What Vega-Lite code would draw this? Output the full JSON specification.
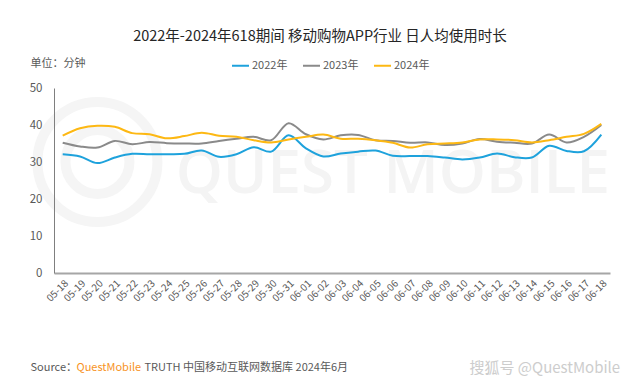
{
  "$schema": "https://vega.github.io/schema/vega-lite/v6.json",
  "width": 556,
  "height": 185,
  "autosize": {"type": "none"},
  "padding": {"left": 54, "top": 88, "right": 30, "bottom": 111},
  "background": "white",
  "title": {
    "text": "2022年-2024年618期间 移动购物APP行业 日人均使用时长",
    "font": "Noto Sans CJK SC",
    "fontSize": 14.5,
    "fontWeight": "normal",
    "color": "#262626",
    "anchor": "middle",
    "dx": -12,
    "offset": 12
  },
  "datasets": {
    "main": [
      {"day": "05-18", "year": "2022年", "v": 32.1}, {"day": "05-19", "year": "2022年", "v": 31.5}, {"day": "05-20", "year": "2022年", "v": 29.7}, {"day": "05-21", "year": "2022年", "v": 31.2},
      {"day": "05-22", "year": "2022年", "v": 32.2}, {"day": "05-23", "year": "2022年", "v": 32.1}, {"day": "05-24", "year": "2022年", "v": 32.1}, {"day": "05-25", "year": "2022年", "v": 32.2},
      {"day": "05-26", "year": "2022年", "v": 33.1}, {"day": "05-27", "year": "2022年", "v": 31.4}, {"day": "05-28", "year": "2022年", "v": 32.1}, {"day": "05-29", "year": "2022年", "v": 34.0},
      {"day": "05-30", "year": "2022年", "v": 32.8}, {"day": "05-31", "year": "2022年", "v": 37.2}, {"day": "06-01", "year": "2022年", "v": 33.7}, {"day": "06-02", "year": "2022年", "v": 31.5},
      {"day": "06-03", "year": "2022年", "v": 32.3}, {"day": "06-04", "year": "2022年", "v": 32.8}, {"day": "06-05", "year": "2022年", "v": 33.1}, {"day": "06-06", "year": "2022年", "v": 31.7},
      {"day": "06-07", "year": "2022年", "v": 31.6}, {"day": "06-08", "year": "2022年", "v": 31.6}, {"day": "06-09", "year": "2022年", "v": 31.2}, {"day": "06-10", "year": "2022年", "v": 30.7},
      {"day": "06-11", "year": "2022年", "v": 31.2}, {"day": "06-12", "year": "2022年", "v": 32.3}, {"day": "06-13", "year": "2022年", "v": 31.3}, {"day": "06-14", "year": "2022年", "v": 31.2},
      {"day": "06-15", "year": "2022年", "v": 34.4}, {"day": "06-16", "year": "2022年", "v": 33.0}, {"day": "06-17", "year": "2022年", "v": 32.9}, {"day": "06-18", "year": "2022年", "v": 37.4},
      {"day": "05-18", "year": "2023年", "v": 35.2}, {"day": "05-19", "year": "2023年", "v": 34.2}, {"day": "05-20", "year": "2023年", "v": 33.9}, {"day": "05-21", "year": "2023年", "v": 35.7},
      {"day": "05-22", "year": "2023年", "v": 34.8}, {"day": "05-23", "year": "2023年", "v": 35.4}, {"day": "05-24", "year": "2023年", "v": 35.1}, {"day": "05-25", "year": "2023年", "v": 35.0},
      {"day": "05-26", "year": "2023年", "v": 35.0}, {"day": "05-27", "year": "2023年", "v": 35.7}, {"day": "05-28", "year": "2023年", "v": 36.3}, {"day": "05-29", "year": "2023年", "v": 36.8},
      {"day": "05-30", "year": "2023年", "v": 35.9}, {"day": "05-31", "year": "2023年", "v": 40.5}, {"day": "06-01", "year": "2023年", "v": 37.5}, {"day": "06-02", "year": "2023年", "v": 36.1},
      {"day": "06-03", "year": "2023年", "v": 37.2}, {"day": "06-04", "year": "2023年", "v": 37.3}, {"day": "06-05", "year": "2023年", "v": 35.9}, {"day": "06-06", "year": "2023年", "v": 35.7},
      {"day": "06-07", "year": "2023年", "v": 35.2}, {"day": "06-08", "year": "2023年", "v": 35.3}, {"day": "06-09", "year": "2023年", "v": 34.6}, {"day": "06-10", "year": "2023年", "v": 35.0},
      {"day": "06-11", "year": "2023年", "v": 36.2}, {"day": "06-12", "year": "2023年", "v": 35.5}, {"day": "06-13", "year": "2023年", "v": 35.2}, {"day": "06-14", "year": "2023年", "v": 35.0},
      {"day": "06-15", "year": "2023年", "v": 37.4}, {"day": "06-16", "year": "2023年", "v": 35.3}, {"day": "06-17", "year": "2023年", "v": 36.8}, {"day": "06-18", "year": "2023年", "v": 40.0},
      {"day": "05-18", "year": "2024年", "v": 37.1}, {"day": "05-19", "year": "2024年", "v": 39.1}, {"day": "05-20", "year": "2024年", "v": 39.8}, {"day": "05-21", "year": "2024年", "v": 39.5},
      {"day": "05-22", "year": "2024年", "v": 37.8}, {"day": "05-23", "year": "2024年", "v": 37.5}, {"day": "05-24", "year": "2024年", "v": 36.4}, {"day": "05-25", "year": "2024年", "v": 37.0},
      {"day": "05-26", "year": "2024年", "v": 37.9}, {"day": "05-27", "year": "2024年", "v": 37.1}, {"day": "05-28", "year": "2024年", "v": 36.8}, {"day": "05-29", "year": "2024年", "v": 35.9},
      {"day": "05-30", "year": "2024年", "v": 35.3}, {"day": "05-31", "year": "2024年", "v": 36.1}, {"day": "06-01", "year": "2024年", "v": 36.8}, {"day": "06-02", "year": "2024年", "v": 37.4},
      {"day": "06-03", "year": "2024年", "v": 36.3}, {"day": "06-04", "year": "2024年", "v": 36.3}, {"day": "06-05", "year": "2024年", "v": 35.9}, {"day": "06-06", "year": "2024年", "v": 35.2},
      {"day": "06-07", "year": "2024年", "v": 33.9}, {"day": "06-08", "year": "2024年", "v": 34.8}, {"day": "06-09", "year": "2024年", "v": 35.0}, {"day": "06-10", "year": "2024年", "v": 35.3},
      {"day": "06-11", "year": "2024年", "v": 36.1}, {"day": "06-12", "year": "2024年", "v": 36.1}, {"day": "06-13", "year": "2024年", "v": 35.9}, {"day": "06-14", "year": "2024年", "v": 35.3},
      {"day": "06-15", "year": "2024年", "v": 35.9}, {"day": "06-16", "year": "2024年", "v": 36.8}, {"day": "06-17", "year": "2024年", "v": 37.6}, {"day": "06-18", "year": "2024年", "v": 40.3}
    ],
    "wm": [{"day": "06-06", "v": 26.5, "t": "QUEST MOBILE"}],
    "logo": [{"day": "05-20", "v": 30, "ring": "outer"}, {"day": "05-20", "v": 30, "ring": "inner"}]
  },
  "layer": [
    {
      "data": {"name": "logo"},
      "mark": {"type": "point", "shape": "circle", "filled": false, "stroke": "#f5f5f5", "strokeWidth": 10, "opacity": 1},
      "encoding": {
        "x": {"field": "day", "type": "nominal", "axis": null},
        "y": {"field": "v", "type": "quantitative", "axis": null},
        "size": {"field": "ring", "type": "nominal", "scale": {"domain": ["outer", "inner"], "range": [14400, 4096]}, "legend": null}
      }
    },
    {
      "data": {"name": "wm"},
      "mark": {"type": "text", "font": "Open Sans", "fontSize": 60, "fontWeight": 600, "color": "#f4f4f4", "align": "center", "baseline": "middle"},
      "encoding": {
        "x": {"field": "day", "type": "nominal", "axis": {"orient": "bottom", "labels": false, "ticks": false, "domain": false, "grid": false, "title": "QuestMobile", "titleColor": "#f7931e", "titleFont": "Noto Sans CJK SC", "titleFontSize": 11, "titleFontWeight": "normal", "titleX": 22, "titleY": 94, "titleAlign": "left", "titleBaseline": "middle"}},
        "y": {"field": "v", "type": "quantitative", "axis": {"orient": "right", "labels": false, "ticks": false, "domain": false, "grid": false, "title": "TRUTH 中国移动互联网数据库 2024年6月", "titleColor": "#595959", "titleFont": "Noto Sans CJK SC", "titleFontSize": 11, "titleFontWeight": "normal", "titleAngle": 0, "titleX": -466, "titleY": 279, "titleAlign": "left", "titleBaseline": "middle"}},
        "text": {"field": "t"}
      }
    },
    {
      "data": {"name": "main"},
      "mark": {"type": "line", "interpolate": "catmull-rom", "strokeWidth": 2},
      "encoding": {
        "x": {"field": "day", "type": "nominal", "axis": {"orient": "bottom", "zindex": 1, "labelAngle": -45, "labelFontSize": 10, "labelColor": "#595959", "labelFont": "Noto Sans CJK SC", "labelPadding": 5, "ticks": false, "domainColor": "#a6a6a6", "domainWidth": 2, "grid": false, "title": "Source：", "titleColor": "#595959", "titleFont": "Noto Sans CJK SC", "titleFontSize": 11, "titleFontWeight": "normal", "titleX": -24, "titleY": 94, "titleAlign": "left", "titleBaseline": "middle"}},
        "y": {"field": "v", "type": "quantitative", "scale": {"domain": [0, 50], "nice": false}, "axis": {"orient": "left", "zindex": 1, "values": [0, 10, 20, 30, 40, 50], "labelFontSize": 11.5, "labelColor": "#595959", "labelFont": "Noto Sans CJK SC", "labelPadding": 12, "ticks": false, "domainColor": "#7f7f7f", "domainWidth": 1, "grid": false, "title": "单位：分钟", "titleColor": "#595959", "titleFont": "Noto Sans CJK SC", "titleFontSize": 11, "titleFontWeight": "normal", "titleAngle": 0, "titleX": -24, "titleY": -25, "titleAlign": "left", "titleBaseline": "middle"}},
        "color": {"field": "year", "type": "nominal", "scale": {"domain": ["2022年", "2023年", "2024年"], "range": ["#1ea2dc", "#8a8a8a", "#fdb813"]},
          "legend": {"orient": "none", "legendX": 177, "legendY": -32, "direction": "horizontal", "title": null, "symbolType": "stroke", "symbolSize": 289, "symbolStrokeWidth": 2, "labelFontSize": 11, "labelColor": "#595959", "labelFont": "Noto Sans CJK SC", "columnPadding": 11, "labelOffset": 2}}
      }
    },
    {
      "data": {"name": "wm"},
      "mark": {"type": "point", "opacity": 0},
      "encoding": {
        "x": {"field": "day", "type": "nominal", "axis": {"orient": "bottom", "labels": false, "ticks": false, "domain": false, "grid": false, "title": "搜狐号 @QuestMobile", "titleColor": "#cdcdcd", "titleFont": "Noto Sans CJK SC", "titleFontSize": 15, "titleFontWeight": "normal", "titleX": 415, "titleY": 94, "titleAlign": "left", "titleBaseline": "middle"}},
        "y": {"field": "v", "type": "quantitative", "axis": null}
      }
    }
  ],
  "resolve": {"axis": {"x": "independent", "y": "independent"}},
  "config": {"view": {"stroke": null}}
}
